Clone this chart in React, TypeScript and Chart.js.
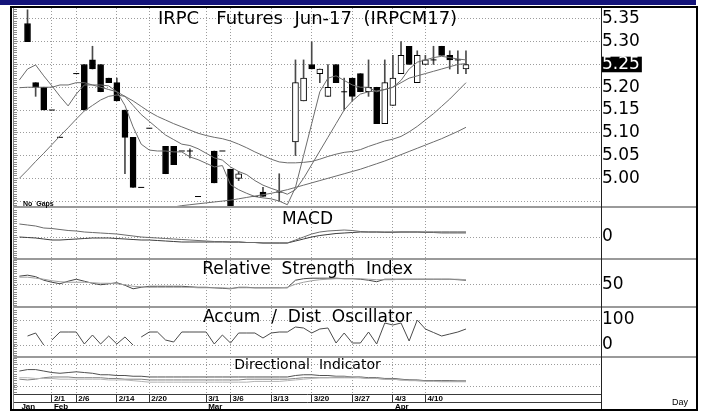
import React, { useEffect, useRef } from 'react';
import { Chart, registerables } from 'chart.js';

Chart.register(...registerables);

// ---------- DATA ----------
const dates = ['1/26','1/27','1/30','1/31','2/1','2/2','2/3','2/6','2/7','2/8','2/9','2/10','2/14','2/15','2/16','2/17','2/20','2/21','2/22','2/23','2/24','2/27','2/28','3/1','3/2','3/3','3/6','3/7','3/8','3/9','3/10','3/13','3/14','3/15','3/16','3/17','3/20','3/21','3/22','3/23','3/24','3/27','3/28','3/29','3/30','3/31','4/3','4/4','4/5','4/7','4/10','4/11','4/12','4/13','4/18','4/19'];

const opens = [null,5.34,5.21,5.20,5.15,5.09,null,5.23,5.25,5.26, 5.25,5.22,5.21,5.15,5.09,4.98,5.11,null,5.07,5.07, 5.06,5.06,4.96,null,5.06,5.06,5.02,5.00,null,4.96, 4.97,null,4.97,null,5.08,5.17,5.25,5.23,5.18,5.25, 5.19,5.22,5.23,5.19,5.20,5.12,5.16,5.23,5.29,5.21, 5.25,5.26,5.29,5.27,5.26,5.24];
const highs = [null,5.37,5.21,5.20,5.15,5.09,null,5.23,5.25,5.29, 5.25,5.22,5.22,5.15,5.09,4.98,5.11,null,5.07,5.07, 5.06,5.065,4.96,null,5.06,5.06,5.02,5.015,null,4.96, 4.98,null,5.01,null,5.26,5.26,5.30,5.24,5.25,5.25, 5.22,5.22,5.23,5.26,5.20,5.26,5.27,5.30,5.29,5.28, 5.27,5.29,5.29,5.28,5.28,5.28];
const lows = [null,5.30,5.18,5.15,5.15,5.09,null,5.23,5.15,5.24, 5.19,5.21,5.17,5.01,4.98,4.98,5.11,null,5.01,5.03, 5.06,5.045,4.96,null,4.99,5.06,4.90,4.995,null,4.96, 4.96,null,4.95,null,5.05,5.17,5.24,5.21,5.18,5.21, 5.15,5.17,5.19,5.18,5.12,5.12,5.16,5.23,5.25,5.21, 5.25,5.25,5.27,5.24,5.23,5.23];
const closes = [null,5.30,5.20,5.15,5.15,5.09,null,5.23,5.15,5.24, 5.19,5.21,5.17,5.09,4.98,4.98,5.11,null,5.01,5.03, 5.06,5.06,4.96,null,4.99,5.06,4.90,5.01,null,4.96, 4.96,null,4.97,null,5.21,5.22,5.24,5.24,5.20,5.21, 5.19,5.18,5.19,5.20,5.12,5.21,5.22,5.27,5.25,5.27, 5.26,5.26,5.27,5.26,5.26,5.25];

const maFast = [5.216,5.24,5.249,5.225,5.203,5.18,5.159,5.185,5.205,5.205, 5.205,5.203,5.19,5.16,5.113,5.075,5.062,5.06,5.06,5.058, 5.058,5.047,5.041,5.033,5.025,5.028,4.986,4.975,4.967,4.96, 4.957,4.955,4.95,4.942,4.98,5.05,5.12,5.19,5.22,5.225, 5.215,5.205,5.2,5.2,5.19,5.195,5.2,5.215,5.24,5.255, 5.26,5.265,5.268,5.265,5.262,5.26];
const maMid = [5.199,5.20,5.20,5.20,5.20,5.205,5.205,5.21,5.21,5.205, 5.20,5.195,5.19,5.18,5.16,5.14,5.125,5.11,5.095,5.085, 5.075,5.072,5.065,5.055,5.045,5.04,5.025,5.015,5.008,4.995, 4.985,4.978,4.972,4.965,4.975,5.00,5.03,5.06,5.09,5.12, 5.15,5.17,5.185,5.19,5.192,5.195,5.20,5.21,5.22,5.225, 5.23,5.235,5.24,5.245,5.25,5.252];
const maSlow = [5.000,5.018,5.037,5.055,5.074,5.093,5.111,5.130,5.148,5.160, 5.172,5.180,5.183,5.180,5.170,5.158,5.146,5.136,5.128,5.120, 5.113,5.106,5.099,5.094,5.090,5.087,5.082,5.075,5.067,5.058, 5.050,5.042,5.036,5.034,5.034,5.035,5.037,5.042,5.048,5.053, 5.057,5.059,5.063,5.070,5.076,5.082,5.086,5.092,5.102,5.114, 5.128,5.142,5.158,5.174,5.192,5.210];
const maLong = [null,null,null,null,null,null,null,null,null,null, null,null,null,null,null,4.925,4.928,4.932,4.934,4.937, 4.940,4.942,4.944,4.946,4.948,4.950,4.952,4.955,4.958,4.961, 4.964,4.967,4.971,4.975,4.980,4.985,4.990,4.995,5.000,5.005, 5.010,5.015,5.020,5.026,5.032,5.038,5.045,5.052,5.059,5.066, 5.073,5.080,5.087,5.095,5.103,5.112];

const macdLine = [.026,.024,.022,.018,.017,.015,.013,.012,.010,.009, .008,.007,.006,.004,.002,.000,-.001,-.002,-.003,-.004, -.005,-.006,-.007,-.008,-.009,-.009,-.010,-.010,-.011,-.011, -.012,-.012,-.012,-.012,-.006,.000,.006,.010,.012,.013, .014,.013,.011,.010,.010,.009,.009,.010,.010,.010, .009,.009,.008,.008,.008,.008];
const macdBase = [.000,-.001,-.002,-.004,-.006,-.006,-.005,-.004,-.003,-.002, -.002,-.002,-.003,-.004,-.005,-.006,-.006,-.007,-.008,-.009, -.010,-.010,-.010,-.010,-.010,-.010,-.010,-.010,-.011,-.011, -.012,-.012,-.012,-.012,-.008,-.004,.000,.003,.005,.007, .008,.009,.010,.010,.010,.010,.010,.010,.010,.010, .010,.010,.010,.010,.010,.010];

const rsiLine = [66,68,65,58,54,51,56,60,56,52, 49,51,53,48,41,44,46,46,46,46, 46,45,44,44,43,42,41,44,44,43, 43,43,43,43,58,61,62,62,62,62, 61,61,60,58,55,60,60,60,60,60, 60,60,60,60,59,58];
const rsiAvg = [64,64,62,60,57,55,54,54,54,53, 52,52,51,49,46,45,44,44,44,44, 44,44,43,43,43,43,42,43,43,43, 43,43,43,44,50,54,57,59,60,61, 61,61,61,60,59,59,59,60,60,60, 60,60,60,60,60,59];

const adOsc = [null,36,48,0,20,52,52,52,4,40, 4,36,4,32,0,32,52,52,20,12, 52,52,52,52,4,40,8,48,48,48, 28,48,52,52,72,68,48,64,68,8, 48,8,8,52,4,88,80,88,16,100, 64,50,36,44,52,64];
const adBreaks = [3, 14];

const diPlus = [31,33,33,31,29,28,29,30,29,28, 26,26,25,25,24,24,23,23,23,23, 23,23,23,23,23,23,23,23,23,23, 23,23,23,23,25,26,26,25,25,24, 24,23,23,22,22,21,21,20,19,19, 18,18,18,18,17.5,17.5];
const diMinus = [20,19,20,22,23,23,23,22,22,22, 22,21,21,20,20,20,19,19,19,19, 19,19,19,19,19,19,19,19,20,20, 20,20,20,20,21,22,22,22,22,22, 22,22,22,21,21,20,20,19,19,18, 18,18,17.5,17.5,17.5,17.5];
const adx = [22,22,21,21,21,20,20,20,20,20, 20,19,19,19,18,17,16,16,16,16, 16,16,16,16,16,16,16,16,16,17, 17,17,17,18,19,20,21,22,22,23, 23,23,22,21,21,20,20,19,18,18, 17,17,16.5,16.5,16.5,16.5];

const priceTicks = [4.95, 5.00, 5.05, 5.10, 5.15, 5.20, 5.25, 5.30, 5.35];
const macdTicks = [0];
const rsiTicks = [50];
const adTicks = [0, 100];
const diTicks = [10, 40];

const axisDates = ['2/1','2/6','2/14','2/20','3/1','3/6','3/13','3/20','3/27','4/3','4/10'];
const monthStarts: Record<string, string> = { '1/26': 'Jan', '2/1': 'Feb', '3/1': 'Mar', '4/3': 'Apr' };

const panelTitles = [
  { id: 'y', text: 'IRPC   Futures  Jun-17  (IRPCM17)', size: 18, dy: 11 },
  { id: 'macd', text: 'MACD', size: 17, dy: 13 },
  { id: 'rsi', text: 'Relative  Strength  Index', size: 17, dy: 11 },
  { id: 'ad', text: 'Accum  /  Dist  Oscillator', size: 17, dy: 10.5 },
  { id: 'di', text: 'Directional  Indicator', size: 14, dy: 8 },
];

// ---------- LAYOUT ----------
const W = 707, H = 412;
const RIGHT_W = 96;
const X_MIN = -0.665, X_MAX = 71.63;
const LAST = closes[closes.length - 1];
const FONT = '"DejaVu Sans", Verdana, sans-serif';

const idx = dates.map((_, k) => k);
const candleIdx = idx.filter(k => opens[k] != null);
const pts = (arr: (number | null)[]) => arr.map((v, k) => ({ x: k, y: v }));
const xTicks = idx.filter(k => axisDates.includes(dates[k]) || monthStarts[dates[k]]);

const panelY = (weight: number, min: number, max: number, ticks: number[], fmt: (v: number) => string) => ({
  type: 'linear', position: 'right', stack: 'panels', stackWeight: weight, min, max,
  afterBuildTicks: (s: any) => { s.ticks = ticks.map(v => ({ value: v })); },
  afterFit: (s: any) => { s.width = RIGHT_W; },
  grid: { color: '#9c9c9c', lineWidth: 1, drawTicks: false },
  border: { display: false, dash: [1, 2] },
  ticks: {
    autoSkip: false, padding: 1,
    font: { family: FONT, size: 17, lineHeight: 0.8 },
    color: (c: any) => (Math.abs(c.tick.value - LAST) < 1e-6 && weight > 100 ? '#fff' : '#000'),
    showLabelBackdrop: (c: any) => Math.abs(c.tick.value - LAST) < 1e-6 && weight > 100,
    backdropColor: '#000',
    backdropPadding: { top: 1, bottom: 1, left: 1, right: 2 },
    callback: (v: number) => fmt(v),
  },
});

const decor = {
  id: 'decor',
  beforeDatasetsDraw(chart: any) {
    const { ctx, chartArea } = chart;
    const cx = (chartArea.left + chartArea.right) / 2;
    ctx.save();
    ctx.fillStyle = '#000';
    ctx.textAlign = 'center';
    ctx.textBaseline = 'middle';
    panelTitles.forEach(p => {
      const s = chart.scales[p.id];
      ctx.font = `${p.size}px ${FONT}`;
      ctx.fillText(p.text, cx, s.top + p.dy);
    });
    ctx.restore();
  },
  beforeDatasetDraw(chart: any, args: any) {
    const s = chart.scales[args.meta.yAxisID];
    const { ctx, chartArea } = chart;
    ctx.save();
    ctx.beginPath();
    ctx.rect(chartArea.left, s.top, chartArea.right - chartArea.left, s.bottom - s.top);
    ctx.clip();
  },
  afterDatasetDraw(chart: any) {
    chart.ctx.restore();
  },
  afterDraw(chart: any) {
    const { ctx, chartArea } = chart;
    const L = chartArea.left, R = chartArea.right, T = chartArea.top, B = chartArea.bottom;
    ctx.save();
    // left ruler
    const ps = chart.scales.y;
    const step = Math.abs(ps.getPixelForValue(5.0) - ps.getPixelForValue(5.005));
    ctx.strokeStyle = '#8a8a8a';
    ctx.lineWidth = 1;
    ctx.beginPath();
    for (let y = B; y > T; y -= step) {
      ctx.moveTo(L, Math.round(y) + 0.5);
      ctx.lineTo(L + 3, Math.round(y) + 0.5);
    }
    ctx.stroke();
    // left gray line
    ctx.strokeStyle = '#808080';
    ctx.beginPath(); ctx.moveTo(L - 0.5, T - 2); ctx.lineTo(L - 0.5, H - 3); ctx.stroke();
    // panel separators
    ctx.strokeStyle = '#9a9a9a';
    ctx.lineWidth = 2;
    ['macd', 'rsi', 'ad', 'di'].forEach(id => {
      const y = Math.round(chart.scales[id].top);
      ctx.beginPath(); ctx.moveTo(L - 1, y); ctx.lineTo(W - 10, y); ctx.stroke();
    });
    // date axis lines
    ctx.lineWidth = 1;
    ctx.strokeStyle = '#3a3a3a';
    ctx.beginPath(); ctx.moveTo(L, Math.round(B) + 0.5); ctx.lineTo(R, Math.round(B) + 0.5); ctx.stroke();
    ctx.beginPath(); ctx.moveTo(L, Math.round(B) + 8.5); ctx.lineTo(R, Math.round(B) + 8.5); ctx.stroke();
    // vertical separator
    ctx.strokeStyle = '#222';
    ctx.beginPath(); ctx.moveTo(Math.round(R) + 0.5, 6); ctx.lineTo(Math.round(R) + 0.5, H - 2); ctx.stroke();
    // outer frame
    ctx.strokeStyle = '#000';
    ctx.lineWidth = 2;
    ctx.strokeRect(11, 7, W - 21, H - 9);
    // top blue band
    ctx.fillStyle = '#14147a';
    ctx.fillRect(0, 0, W - 11, 5);
    // small texts
    ctx.fillStyle = '#000';
    ctx.textBaseline = 'alphabetic';
    ctx.textAlign = 'left';
    ctx.font = 'bold 7px "Liberation Sans", Arial, sans-serif';
    ctx.fillText('No  Gaps', L + 9, ps.bottom - 1);
    ctx.font = '9px "Liberation Sans", Arial, sans-serif';
    ctx.fillText('Day', W - 35, H - 7);
    ctx.restore();
  },
};

export default function App() {
  const ref = useRef<HTMLCanvasElement>(null);
  useEffect(() => {
    const line = (data: any[], yAxisID: string, color: string, order = 0, extra: any = {}) => ({
      type: 'line', data, yAxisID, borderColor: color, borderWidth: 1, pointRadius: 0,
      tension: 0, fill: false, spanGaps: false, order, ...extra,
    });
    const chart = new Chart(ref.current as HTMLCanvasElement, {
      type: 'line',
      data: {
        datasets: [
          line(pts(maFast), 'y', '#6c6c6c', 0),
          line(pts(maMid), 'y', '#6c6c6c', 0),
          line(pts(maSlow), 'y', '#6c6c6c', 0),
          line(pts(maLong), 'y', '#6c6c6c', 0),
          {
            type: 'bar', yAxisID: 'y', order: 2, grouped: false, barThickness: 6,
            data: candleIdx.filter(k => opens[k] !== closes[k]).map(k => ({ x: k, y: [opens[k], closes[k]] })),
            backgroundColor: (c: any) => (c.raw && c.raw.y[1] < c.raw.y[0] ? '#000' : '#fff'),
            borderColor: '#000', borderWidth: 1, borderSkipped: false,
          },
          {
            type: 'line', yAxisID: 'y', order: 2, showLine: false,
            data: candleIdx.filter(k => opens[k] === closes[k]).map(k => ({ x: k, y: closes[k] })),
            pointStyle: 'line', pointRadius: 3, borderColor: '#000', borderWidth: 1,
          },
          {
            type: 'bar', yAxisID: 'y', order: 3, grouped: false, barThickness: 1,
            data: candleIdx.filter(k => highs[k] !== lows[k]).map(k => ({ x: k, y: [lows[k], highs[k]] })),
            backgroundColor: '#4a4a4a', borderWidth: 0,
          },
          line(pts(macdLine), 'macd', '#6a6a6a'),
          line(pts(macdBase), 'macd', '#3c3c3c'),
          line(pts(rsiAvg), 'rsi', '#a0a0a0'),
          line(pts(rsiLine), 'rsi', '#444'),
          line(pts(adOsc), 'ad', '#4a4a4a', 0, {
            segment: { borderColor: (c: any) => (adBreaks.includes(c.p0DataIndex) ? 'rgba(0,0,0,0)' : '#4a4a4a') },
          }),
          line(pts(adx), 'di', '#b4b4b4'),
          line(pts(diMinus), 'di', '#808080'),
          line(pts(diPlus), 'di', '#505050'),
        ] as any,
      },
      options: {
        responsive: false,
        animation: false,
        devicePixelRatio: 1,
        layout: { padding: { left: 14, top: 8, right: 10, bottom: 2 } },
        plugins: { legend: { display: false }, tooltip: { enabled: false } },
        events: [],
        scales: {
          x: {
            type: 'linear', position: 'bottom', min: X_MIN, max: X_MAX, offset: false,
            afterBuildTicks: (s: any) => { s.ticks = xTicks.map(v => ({ value: v })); },
            afterFit: (s: any) => { s.height = 16; },
            grid: {
              color: (c: any) => (c.tick && axisDates.includes(dates[c.tick.value]) ? '#9c9c9c' : 'rgba(0,0,0,0)'),
              tickColor: (c: any) => (c.tick && axisDates.includes(dates[c.tick.value]) ? '#333' : 'rgba(0,0,0,0)'),
              tickLength: 8, tickWidth: 1, tickBorderDash: [], drawTicks: true, offset: false,
            },
            border: { display: false, dash: [1, 2] },
            ticks: {
              autoSkip: false, maxRotation: 0, minRotation: 0, align: 'start', labelOffset: 2, padding: -7,
              color: '#000',
              font: { family: '"Liberation Sans", Arial, sans-serif', size: 8, weight: 'bold', lineHeight: 1 },
              callback: (v: number) => {
                const d = dates[v];
                const m = monthStarts[d];
                const top = axisDates.includes(d) ? d : '';
                return m ? [top, m] : top;
              },
            },
          },
          y: panelY(199, 4.937, 5.374, priceTicks, v => (v < 4.99 ? '' : v.toFixed(2))),
          macd: panelY(52, -0.044, 0.06, macdTicks, v => String(v)),
          rsi: panelY(48, 5, 100, rsiTicks, v => String(v)),
          ad: panelY(50, -48, 152, adTicks, v => String(v)),
          di: panelY(37, 0, 50, diTicks, () => ''),
        } as any,
      },
      plugins: [decor],
    } as any);
    return () => chart.destroy();
  }, []);
  return (
    <div style={{ position: 'absolute', left: 0, top: 0, width: W, height: H, background: '#fff' }}>
      <canvas ref={ref} width={W} height={H} style={{ display: 'block' }} />
    </div>
  );
}
